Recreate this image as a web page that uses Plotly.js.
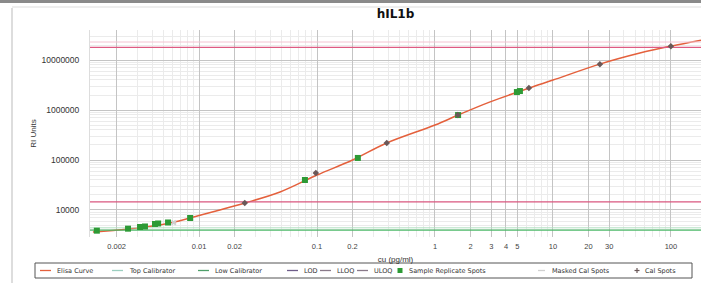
<!DOCTYPE html>
<html><head><meta charset="utf-8">
<script src="https://cdn.plot.ly/plotly-3.0.1.min.js"></script>
<style>body{margin:0;background:#fff}#c{width:701px;height:283px}</style>
</head><body><div id="c"></div>
<script>
// Elisa curve points
const curveX = [0.00126, 0.0025, 0.0057, 0.01, 0.015, 0.0245, 0.0486, 0.1, 0.2, 0.39, 1, 1.57, 2.9, 6.25, 10, 25, 54.6, 100, 180];
const curveY = [3630, 4170, 5500, 7760, 10000, 13800, 22900, 50100, 100000, 219000, 501000, 794000, 1440000, 2750000, 3980000, 8300000, 13800000, 19000000, 25000000];
// Sample replicate spots
const sampleX = [0.00136, 0.0025, 0.00316, 0.00348, 0.00423, 0.0045, 0.00546, 0.0084, 0.079, 0.222, 1.57, 4.95, 5.25];
const sampleY = [3855, 4227, 4571, 4677, 5250, 5370, 5620, 6918, 39800, 110000, 794000, 2290000, 2400000];
// Cal spots
const calX = [0.0244, 0.0977, 0.39, 1.5625, 6.25, 25, 100];
const calY = [13800, 55000, 219000, 794000, 2750000, 8300000, 19000000];
// Masked cal spots
const maskedX = [0.0061];
const maskedY = [5600];
// Reference levels
const topCal = 23000000;
const uloq = 18000000;
const lloq = 14500;
const lod = 3950;
const lowCal = 4400;
const xSpan = [0.00119, 180];
const ySpan = [2880, 40000000];
const xTicks = [0.002, 0.01, 0.02, 0.1, 0.2, 1, 2, 3, 4, 5, 10, 20, 30, 100, 200];
const xTickText = ['0.002', '0.01', '0.02', '0.1', '0.2', '1', '2', '3', '4', '5', '10', '20', '30', '100', '200'];
const yTicks = [10000, 100000, 1000000, 10000000];
const yTickText = ['10000', '100000', '1000000', '10000000'];
const legendNames = ['Elisa Curve', 'Top Calibrator', 'Low Calibrator', 'LOD', 'LLOQ', 'ULOQ', 'Sample Replicate Spots', 'Masked Cal Spots', 'Cal Spots'];

const colors = {curve: '#e4603c', top: '#f3c3d2', low: '#b4e0c4', lod: '#4cb868', lloq: '#d9577f', uloq: '#de5a82',
  sample: '#2d9a35', masked: '#cfcfcf', cal: '#6a5858'};

const hline = (name, y, color, w) => ({x: xSpan, y: [y, y], mode: 'lines', name: name, line: {color: color, width: w}, hoverinfo: 'skip'});

const traces = [
  {x: curveX, y: curveY, mode: 'lines', name: legendNames[0], line: {color: colors.curve, width: 1.5, shape: 'spline', smoothing: 1}},
  hline(legendNames[1], topCal, colors.top, 1),
  hline(legendNames[2], lowCal, colors.low, 1),
  hline(legendNames[3], lod, colors.lod, 1.4),
  hline(legendNames[4], lloq, colors.lloq, 1.2),
  hline(legendNames[5], uloq, colors.uloq, 1.2),
  {x: sampleX, y: sampleY, mode: 'markers', name: legendNames[6], marker: {color: colors.sample, size: 6, symbol: 'square'}},
  {x: maskedX, y: maskedY, mode: 'markers', name: legendNames[7], marker: {color: colors.masked, size: 5, symbol: 'x'}},
  {x: calX, y: calY, mode: 'markers', name: legendNames[8], marker: {color: colors.cal, size: 5, symbol: 'diamond'}}
];

// margins (px) and helpers to convert page pixels to paper coords for the hand-drawn legend box
const M = {l: 90, r: 0, t: 30, b: 46}, W = 701, H = 283;
const pw = W - M.l - M.r, ph = H - M.t - M.b;
const px = v => (v - M.l) / pw;
const py = v => (H - M.b - v) / ph;

const legendY = 270.5;
const legendItems = [
  {kind: 'line', color: colors.curve, x0: 40, x1: 51, tx: 55},
  {kind: 'line', color: '#9ccfc0', x0: 112, x1: 123, tx: 127},
  {kind: 'line', color: '#4f9f6a', x0: 198, x1: 209, tx: 213},
  {kind: 'line', color: '#6f5d8a', x0: 287, x1: 298, tx: 302},
  {kind: 'line', color: '#8a7a8a', x0: 320, x1: 331, tx: 335},
  {kind: 'line', color: '#8a7a8a', x0: 357, x1: 368, tx: 372},
  {kind: 'square', color: colors.sample, cx: 400, tx: 407},
  {kind: 'line', color: '#d0d0d0', x0: 538, x1: 545, tx: 550},
  {kind: 'diamond', color: colors.cal, cx: 637, tx: 643}
];

const shapes = [
  {type: 'line', xref: 'paper', yref: 'paper', x0: px(12), x1: px(12), y0: py(283), y1: py(8), line: {color: '#bbb', width: 1}},
  {type: 'rect', xref: 'paper', yref: 'paper', x0: px(0), x1: px(701), y0: py(0), y1: py(3), fillcolor: '#8a8a8a', line: {width: 0}},
  {type: 'line', xref: 'paper', yref: 'paper', x0: px(12), x1: px(701), y0: py(7), y1: py(7), line: {color: '#ddd', width: 1}},
  {type: 'rect', xref: 'paper', yref: 'paper', x0: px(35), x1: px(692), y0: py(263), y1: py(278), line: {color: '#555', width: 1}, fillcolor: 'rgba(0,0,0,0)'}
];
const annotations = [];
legendItems.forEach((it, i) => {
  if (it.kind === 'line') {
    shapes.push({type: 'line', xref: 'paper', yref: 'paper', x0: px(it.x0), x1: px(it.x1), y0: py(legendY), y1: py(legendY), line: {color: it.color, width: 1.3}});
  } else if (it.kind === 'square') {
    shapes.push({type: 'rect', xref: 'paper', yref: 'paper', x0: px(it.cx - 2.5), x1: px(it.cx + 2.5), y0: py(legendY + 2.5), y1: py(legendY - 2.5), fillcolor: it.color, line: {width: 0}});
  } else {
    shapes.push({type: 'line', xref: 'paper', yref: 'paper', x0: px(it.cx - 2.5), x1: px(it.cx + 2.5), y0: py(legendY), y1: py(legendY), line: {color: it.color, width: 1.2}});
    shapes.push({type: 'line', xref: 'paper', yref: 'paper', x0: px(it.cx), x1: px(it.cx), y0: py(legendY + 2.5), y1: py(legendY - 2.5), line: {color: it.color, width: 1.2}});
  }
  annotations.push({xref: 'paper', yref: 'paper', x: px(it.tx), y: py(legendY), xanchor: 'left', yanchor: 'middle',
    text: legendNames[i], showarrow: false, font: {family: 'DejaVu Sans', size: 6.5, color: '#333'}});
});

const layout = {
  width: W, height: H,
  margin: M,
  paper_bgcolor: '#fff', plot_bgcolor: '#fff',
  font: {family: 'Liberation Sans, Arial, sans-serif', size: 7, color: '#333'},
  title: {text: '<b>hIL1b</b>', x: 0.5, xref: 'paper', y: 0.95, yanchor: 'middle', font: {family: 'DejaVu Sans', size: 12, color: '#111'}},
  xaxis: {type: 'log', range: [Math.log10(xSpan[0]), Math.log10(xSpan[1])], tickvals: xTicks, ticktext: xTickText,
    showgrid: true, gridcolor: '#c4c4c4', gridwidth: 1, zeroline: false, showline: false, ticks: '', automargin: false,
    minor: {showgrid: true, gridcolor: '#ebebeb', dtick: 'D1'}, ticklabelstandoff: 3,
    title: {text: 'cu (pg/ml)', standoff: 6, font: {size: 8, color: '#333'}}, tickfont: {size: 7.5, color: '#444'}},
  yaxis: {type: 'log', range: [Math.log10(ySpan[0]), Math.log10(ySpan[1])], tickvals: yTicks, ticktext: yTickText,
    showgrid: true, gridcolor: '#c4c4c4', zeroline: false, showline: true, linecolor: '#ddd', ticks: '', automargin: false,
    minor: {showgrid: true, gridcolor: '#ebebeb', dtick: 'D1'}, ticklabelstandoff: 8,
    title: {text: 'RI Units', standoff: 3, font: {size: 8, color: '#333'}}, tickfont: {size: 8.5, color: '#333'}},
  showlegend: false,
  shapes: shapes,
  annotations: annotations
};
Plotly.newPlot('c', traces, layout, {staticPlot: true, displayModeBar: false});
</script></body></html>
